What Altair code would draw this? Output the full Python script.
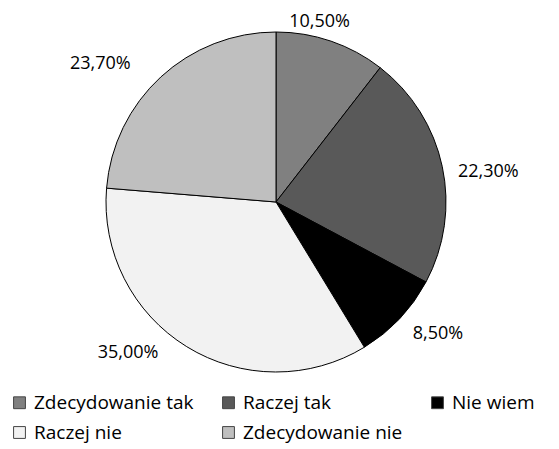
import math
import altair as alt
import pandas as pd

categories = ["Zdecydowanie tak", "Raczej tak", "Nie wiem", "Raczej nie", "Zdecydowanie nie"]
values = [10.5, 22.3, 8.5, 35.0, 23.7]
labels = ["10,50%", "22,30%", "8,50%", "35,00%", "23,70%"]
colors = ["#808080", "#595959", "#000000", "#f2f2f2", "#bfbfbf"]

df = pd.DataFrame({"cat": categories, "val": values, "lab": labels, "idx": list(range(len(categories)))})

FONT = "Open Sans"

pie = alt.Chart(df).mark_arc(outerRadius=170, stroke="black", strokeWidth=1).encode(
    theta=alt.Theta("val:Q", stack=True),
    order=alt.Order("idx:Q"),
    color=alt.Color(
        "cat:N",
        scale=alt.Scale(domain=categories, range=colors),
        sort=categories,
        legend=alt.Legend(
            title=None,
            orient="none",
            legendX=2,
            legendY=385,
            direction="horizontal",
            columns=3,
            columnPadding=25,
            rowPadding=10,
            symbolType="square",
            symbolSize=140,
            symbolStrokeColor="#444444",
            symbolStrokeWidth=1,
            symbolOffset=0,
            labelFontSize=19,
            labelFont=FONT,
            labelColor="#000000",
            labelOffset=5,
        ),
    ),
)

# label base: explicit stacking so that later filtering keeps each slice's mid-angle
lab_base = (
    alt.Chart(df)
    .transform_joinaggregate(total="sum(val)")
    .transform_stack(stack="val", groupby=[], as_=["v0", "v1"], sort=[alt.SortField("idx", order="ascending")])
    .transform_calculate(mid="(datum.v0 + datum.v1) / 2 / datum.total")
    .encode(
        theta=alt.Theta("mid:Q", stack=False, scale=alt.Scale(domain=[0, 1], range=[0, 2 * math.pi])),
        text="lab:N",
    )
)

text_top = lab_base.mark_text(
    radius=190, fontSize=18, font=FONT, color="#000000", align="center", dx=-18
).transform_filter(alt.datum.idx == 0)
text_right = lab_base.mark_text(
    radius=180, fontSize=18, font=FONT, color="#000000", align="left", dx=6, dy=8
).transform_filter((alt.datum.idx == 1) | (alt.datum.idx == 2))
text_left = lab_base.mark_text(
    radius=182, fontSize=18, font=FONT, color="#000000", align="right", dx=-22, dy=-4
).transform_filter((alt.datum.idx == 3) | (alt.datum.idx == 4))

chart = (
    alt.layer(pie, text_top, text_right, text_left)
    .resolve_scale(theta="independent")
    .properties(width=536, height=388, padding=0)
    .configure_view(stroke=None)
)

chart.save("out.html", embed_options={"renderer": "svg", "actions": False})
